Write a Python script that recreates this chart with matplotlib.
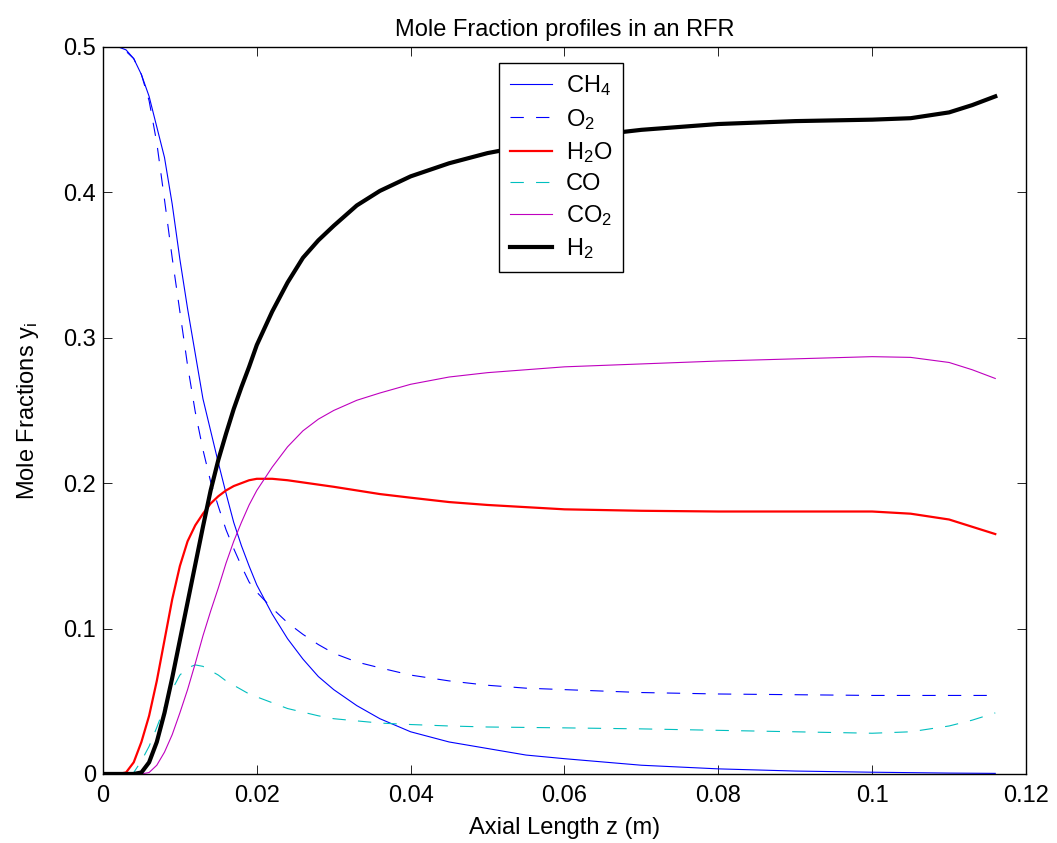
import matplotlib
matplotlib.use("Agg")
import matplotlib.pyplot as plt

plt.rcParams['font.family'] = ['Liberation Sans', 'DejaVu Sans']
plt.rcParams['mathtext.fontset'] = 'custom'
plt.rcParams['mathtext.rm'] = 'Liberation Sans'
plt.rcParams['mathtext.it'] = 'Liberation Sans:italic'

# Axial positions (m)
z = [0.0, 0.002, 0.003, 0.004, 0.005, 0.006, 0.007, 0.008, 0.009, 0.010,
     0.011, 0.012, 0.013, 0.014, 0.015, 0.016, 0.017, 0.018, 0.019, 0.020,
     0.022, 0.024, 0.026, 0.028, 0.030, 0.033, 0.036, 0.040, 0.045, 0.050,
     0.055, 0.060, 0.070, 0.080, 0.090, 0.100, 0.105, 0.110, 0.113, 0.116]

ch4 = [0.5, 0.5, 0.498, 0.492, 0.481, 0.466, 0.445, 0.424, 0.392, 0.354,
       0.320, 0.289, 0.258, 0.236, 0.214, 0.193, 0.173, 0.157, 0.143, 0.130,
       0.110, 0.093, 0.079, 0.067, 0.058, 0.047, 0.038, 0.029, 0.022, 0.0175,
       0.013, 0.0105, 0.0060, 0.0035, 0.0020, 0.0012, 0.0009, 0.0006, 0.0005, 0.0004]

o2 = [0.5, 0.5, 0.497, 0.492, 0.481, 0.463, 0.434, 0.395, 0.355, 0.318,
      0.281, 0.249, 0.223, 0.201, 0.184, 0.168, 0.155, 0.143, 0.132, 0.125,
      0.114, 0.104, 0.096, 0.089, 0.083, 0.077, 0.073, 0.068, 0.064, 0.061,
      0.059, 0.058, 0.056, 0.055, 0.0545, 0.054, 0.054, 0.054, 0.054, 0.054]

h2o = [0.0, 0.0, 0.001, 0.008, 0.022, 0.040, 0.064, 0.092, 0.120, 0.143,
       0.160, 0.171, 0.179, 0.186, 0.191, 0.195, 0.198, 0.200, 0.202, 0.203,
       0.203, 0.202, 0.2005, 0.199, 0.1975, 0.195, 0.1925, 0.190, 0.187, 0.185,
       0.1835, 0.182, 0.181, 0.1805, 0.1805, 0.1805, 0.179, 0.175, 0.170, 0.165]

co = [0.0, 0.0, 0.0, 0.001, 0.009, 0.019, 0.032, 0.046, 0.058, 0.068,
      0.073, 0.075, 0.074, 0.071, 0.068, 0.064, 0.061, 0.058, 0.055, 0.053,
      0.049, 0.045, 0.0425, 0.040, 0.038, 0.0365, 0.035, 0.034, 0.033, 0.0323,
      0.032, 0.0317, 0.031, 0.030, 0.029, 0.028, 0.029, 0.033, 0.037, 0.042]

co2 = [0.0, 0.0, 0.0, 0.0, 0.0, 0.001, 0.006, 0.015, 0.027, 0.042,
       0.058, 0.076, 0.095, 0.112, 0.128, 0.145, 0.160, 0.173, 0.185, 0.195,
       0.211, 0.225, 0.236, 0.244, 0.250, 0.257, 0.262, 0.268, 0.273, 0.276,
       0.278, 0.280, 0.282, 0.284, 0.2855, 0.287, 0.2865, 0.283, 0.278, 0.272]

h2 = [0.0, 0.0, 0.0, 0.0, 0.001, 0.008, 0.022, 0.042, 0.066, 0.092,
      0.118, 0.144, 0.170, 0.195, 0.216, 0.234, 0.251, 0.266, 0.280, 0.295,
      0.318, 0.338, 0.355, 0.367, 0.377, 0.391, 0.401, 0.411, 0.420, 0.427,
      0.432, 0.437, 0.443, 0.447, 0.449, 0.450, 0.451, 0.455, 0.460, 0.466]

labels = ['CH$_4$', 'O$_2$', 'H$_2$O', 'CO', 'CO$_2$', 'H$_2$']
xticks = [0, 0.02, 0.04, 0.06, 0.08, 0.1, 0.12]
xticklabels = ['0', '0.02', '0.04', '0.06', '0.08', '0.1', '0.12']
yticks = [0, 0.1, 0.2, 0.3, 0.4, 0.5]
yticklabels = ['0', '0.1', '0.2', '0.3', '0.4', '0.5']

fig = plt.figure(figsize=(10.57, 8.43), dpi=100)
ax = fig.add_axes([0.0974, 0.0819, 0.8733, 0.8624])

ax.plot(z, ch4, color=(0, 0, 1), lw=0.8, label=labels[0])
ax.plot(z, o2, color=(0, 0, 1), lw=0.8, linestyle=(0, (12, 11)), label=labels[1])
ax.plot(z, h2o, color=(1, 0, 0), lw=1.6, label=labels[2])
ax.plot(z, co, color=(0, 0.75, 0.75), lw=0.8, linestyle=(0, (12, 11)), label=labels[3])
ax.plot(z, co2, color=(0.75, 0, 0.75), lw=0.8, label=labels[4])
ax.plot(z, h2, color='black', lw=3.0, label=labels[5])

ax.set_xlim(0, 0.12)
ax.set_ylim(0, 0.5)
ax.set_xticks(xticks)
ax.set_xticklabels(xticklabels)
ax.set_yticks(yticks)
ax.set_yticklabels(yticklabels)
ax.tick_params(direction='in', length=6.5, width=0.6, labelsize=17,
               top=True, right=True, pad=5)
ax.tick_params(axis='x', pad=8)
for s in ax.spines.values():
    s.set_linewidth(1.0)
    s.set_color('black')

ax.set_title('Mole Fraction profiles in an RFR', fontsize=17, pad=8)
ax.set_xlabel('Axial Length z (m)', fontsize=17, labelpad=7)
ax.set_ylabel('Mole Fractions y$_\\mathrm{i}$', fontsize=17, labelpad=16)

leg = ax.legend(loc='upper left', bbox_to_anchor=(0.429, 0.978), fontsize=17,
                frameon=True, fancybox=False, edgecolor='black', framealpha=1,
                handlelength=1.8, handletextpad=0.6, labelspacing=0.35,
                borderpad=0.45, borderaxespad=0)
leg.get_frame().set_linewidth(1.0)

fig.savefig('out.png', dpi=100, facecolor='white')
